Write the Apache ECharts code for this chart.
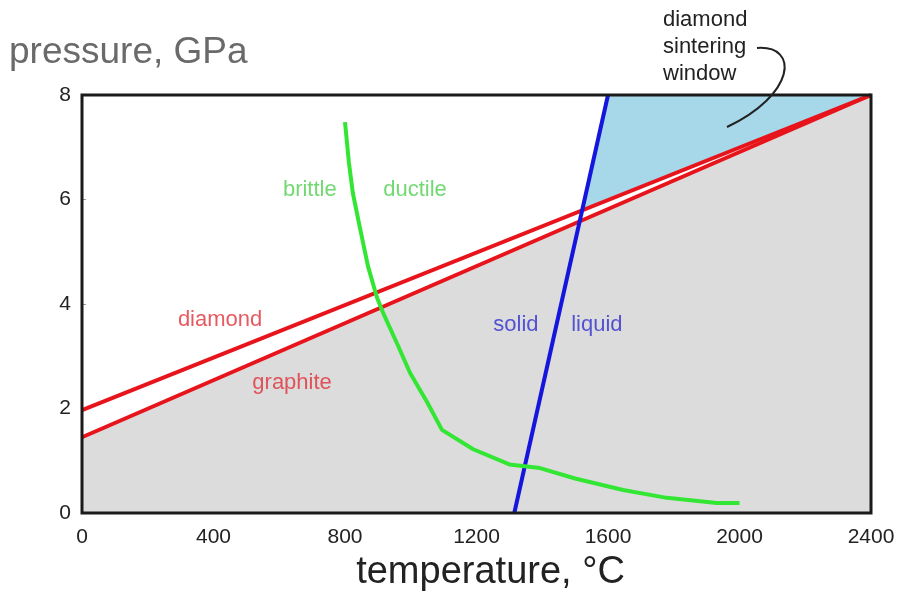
<!DOCTYPE html>
<html>
<head>
<meta charset="utf-8">
<script src="https://cdn.jsdelivr.net/npm/echarts@6/dist/echarts.min.js"></script>
<style>html,body{margin:0;padding:0;background:#fff}#c{width:902px;height:594px}</style>
</head>
<body>
<div id="c"></div>
<script>
// ---- data ----
var xTicks = [0, 400, 800, 1200, 1600, 2000, 2400];
var yTicks = [0, 2, 4, 6, 8];
var diamondLine = [[0, 1.97], [2400, 8]];
var graphiteLine = [[0, 1.45], [2400, 8]];
var meltLine = [[1315, 0], [1600, 8]];
var sinteringWindow = [[1600, 8], [2400, 8], [1521, 5.79]];
var brittleDuctile = [[800, 7.48], [812, 6.7], [824, 6.12], [845, 5.47], [870, 4.72], [897, 4.13], [916, 3.83],
  [960, 3.22], [998, 2.68], [1050, 2.12], [1095, 1.59], [1190, 1.22], [1300, 0.93], [1393, 0.86],
  [1500, 0.66], [1646, 0.44], [1779, 0.29], [1931, 0.19], [2000, 0.19]];
var labelNames = ['brittle', 'ductile', 'diamond', 'graphite', 'solid', 'liquid'];
var labelX = [693, 1013, 420, 639, 1320, 1566];
var labelY = [6.18, 6.18, 3.69, 2.49, 3.6, 3.6];
var labelColors = ['#4fcf4f', '#4fcf4f', '#e0303a', '#e0303a', '#3030d0', '#3030d0'];
var calloutLines = ['diamond', 'sintering', 'window'];

var FONT = '"Liberation Sans", Arial, sans-serif';
var chart = echarts.init(document.getElementById('c'), null, {renderer: 'canvas'});

var labelData = labelNames.map(function (n, i) {
  return {
    value: [labelX[i], labelY[i]],
    label: {show: true, position: 'inside', formatter: n, color: labelColors[i],
      fontSize: 22, fontFamily: FONT}
  };
});

var option = {
  animation: false,
  backgroundColor: '#fff',
  title: {
    text: 'pressure, GPa', left: 4, top: 29,
    textStyle: {fontSize: 37, fontWeight: 'normal', color: '#6a6a6a', fontFamily: FONT}
  },
  grid: {left: 82, right: 31, top: 95, bottom: 81, show: true, z: 10,
    containLabel: false, outerBoundsMode: 'none',
    borderColor: '#1a1a1a', borderWidth: 3, backgroundColor: 'transparent'},
  xAxis: {
    type: 'value', min: 0, max: 2400, interval: 400,
    name: 'temperature, °C', nameLocation: 'middle', nameGap: 41,
    nameTextStyle: {fontSize: 38, color: '#222', fontFamily: FONT, padding: [0, 0, 0, 28]},
    axisLine: {show: false},
    axisTick: {show: true, inside: true, length: 4, lineStyle: {color: '#999'}},
    axisLabel: {color: '#222', fontSize: 21, margin: 14, fontFamily: FONT,
      formatter: function (v) { return xTicks.indexOf(v) >= 0 ? String(v) : ''; }},
    splitLine: {show: false}
  },
  yAxis: {
    type: 'value', min: 0, max: 8, interval: 2,
    axisLine: {show: false},
    axisTick: {show: true, inside: true, length: 4, lineStyle: {color: '#999'}},
    axisLabel: {color: '#222', fontSize: 21, margin: 11, fontFamily: FONT,
      formatter: function (v) { return yTicks.indexOf(v) >= 0 ? String(v) : ''; }},
    splitLine: {show: false}
  },
  series: [
    {
      type: 'line', data: graphiteLine, symbol: 'none', silent: true,
      lineStyle: {width: 0}, areaStyle: {color: '#dcdcdc', opacity: 1, origin: 'start'}, z: 1
    },
    {
      type: 'custom', silent: true, z: 2,
      renderItem: function (params, api) {
        if (params.dataIndex !== 0) return;
        var pts = sinteringWindow.map(function (p) { return api.coord(p); });
        return {type: 'polygon', shape: {points: pts}, style: {fill: '#a6d8ea'}};
      },
      data: sinteringWindow
    },
    {type: 'line', data: diamondLine, symbol: 'none', lineStyle: {color: '#e8141c', width: 4}, z: 3},
    {type: 'line', data: graphiteLine, symbol: 'none', lineStyle: {color: '#e8141c', width: 4}, z: 3},
    {type: 'line', data: meltLine, symbol: 'none', lineStyle: {color: '#1515dd', width: 4}, z: 4},
    {type: 'line', data: brittleDuctile, symbol: 'none', lineStyle: {color: '#33e633', width: 4}, z: 4},
    {type: 'scatter', data: labelData, symbolSize: 0, silent: true, z: 5}
  ],
  graphic: [
    {type: 'text', left: 663, top: 6, z: 10,
      style: {text: calloutLines.join('\n'), fill: '#222', font: '22px ' + FONT,
        textAlign: 'left', lineHeight: 27}},
    {type: 'bezierCurve', z: 10,
      shape: {x1: 757, y1: 48, cpx1: 800, cpy1: 45, cpx2: 795, cpy2: 95, x2: 727, y2: 127},
      style: {stroke: '#222', lineWidth: 2, fill: null}}
  ]
};
chart.setOption(option);
</script>
</body>
</html>
